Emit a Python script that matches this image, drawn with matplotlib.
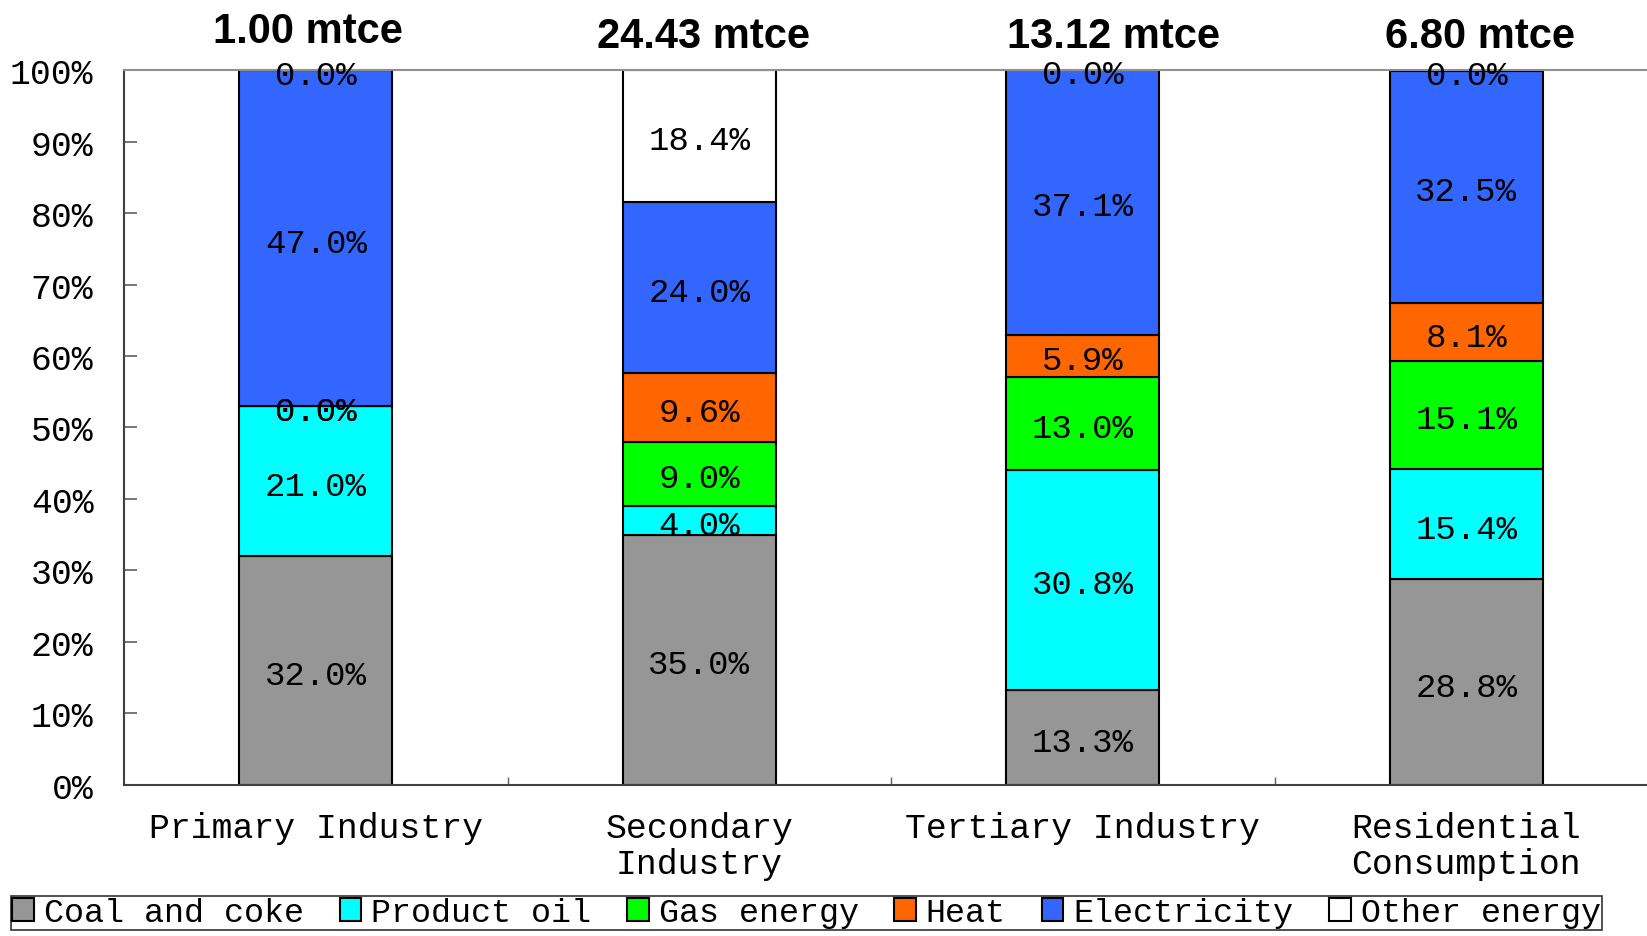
import numpy as np
import matplotlib.pyplot as plt
import matplotlib.transforms as mtransforms

# Data (percent shares)
categories = ['Primary Industry', 'Secondary\nIndustry', 'Tertiary Industry', 'Residential\nConsumption']
totals = ['1.00 mtce', '24.43 mtce', '13.12 mtce', '6.80 mtce']
sources = ['Coal and coke', 'Product oil', 'Gas energy', 'Heat', 'Electricity', 'Other energy']
coal = [32.0, 35.0, 13.3, 28.8]
oil = [21.0, 4.0, 30.8, 15.4]
gas = [0.0, 9.0, 13.0, 15.1]
heat = [0.0, 9.6, 5.9, 8.1]
elec = [47.0, 24.0, 37.1, 32.5]
other = [0.0, 18.4, 0.0, 0.0]

colors = ['#969696', '#00ffff', '#00ff00', '#ff6600', '#3366ff', '#ffffff']
mono = 'Liberation Mono'

fig = plt.figure(figsize=(16.47, 9.37), dpi=100)
ax = fig.add_axes([0.0753, 0.1612, 0.9314, 0.763])

# labels sit a few pixels below the segment centre in the original
lab_tr = mtransforms.offset_copy(ax.transData, fig=fig, x=0, y=-5, units='dots')

x = np.arange(len(categories))
bottom = np.zeros(len(categories))
for name, vals, col in zip(sources, [coal, oil, gas, heat, elec, other], colors):
    vals = np.array(vals)
    ax.bar(x, vals, 0.4, bottom=bottom, color=col, edgecolor='black',
           linewidth=1.5, label=name, zorder=2)
    for xi, b, v in zip(x, bottom, vals):
        ax.text(xi, b + v / 2, f'{v:.1f}%', ha='center', va='center',
                fontsize=24.5, family=mono, zorder=3, transform=lab_tr)
    bottom += vals

# totals above each bar (hand placed in the original)
title_dx = [-0.02, 0.01, 0.08, 0.035]
title_y = [105.4, 104.75, 104.75, 104.75]
for xi, t, dx, ty in zip(x, totals, title_dx, title_y):
    ax.text(xi + dx, ty, t, ha='center', va='center', fontsize=30,
            fontweight='bold', family='Liberation Sans', clip_on=False)

ax.set_xlim(-0.5, 3.5)
ax.set_ylim(0, 100)
ax.set_yticks(np.arange(0, 101, 10))
ax.set_yticklabels([f'{v}%' for v in range(0, 101, 10)], family=mono, fontsize=25)
ax.tick_params(axis='y', direction='in', length=9.5, width=1.2, color='#606060', pad=22)

ax.set_xticks(x)
ax.set_xticklabels(categories, family=mono, fontsize=25, linespacing=1.1, va='top')
ax.tick_params(axis='x', which='major', length=0, pad=19)
ax.set_xticks([0.5, 1.5, 2.5], minor=True)
ax.tick_params(axis='x', which='minor', direction='in', length=6, width=1, color='#606060')

ax.spines['top'].set_color('#909090')
ax.spines['top'].set_linewidth(1.5)
ax.spines['right'].set_visible(False)
ax.spines['left'].set_color('#404040')
ax.spines['left'].set_linewidth(1.5)
ax.spines['bottom'].set_color('#404040')
ax.spines['bottom'].set_linewidth(1.5)

leg = fig.legend(loc='upper left', bbox_to_anchor=(0.0064, 0.043), ncol=6,
                 prop={'family': mono, 'size': 24}, frameon=True, fancybox=False,
                 edgecolor='black', handlelength=0.65, handleheight=0.7,
                 handletextpad=0.3, columnspacing=1.07, borderpad=0.05,
                 borderaxespad=0)
leg.get_frame().set_linewidth(1.2)

fig.savefig('out.png', dpi=100)
